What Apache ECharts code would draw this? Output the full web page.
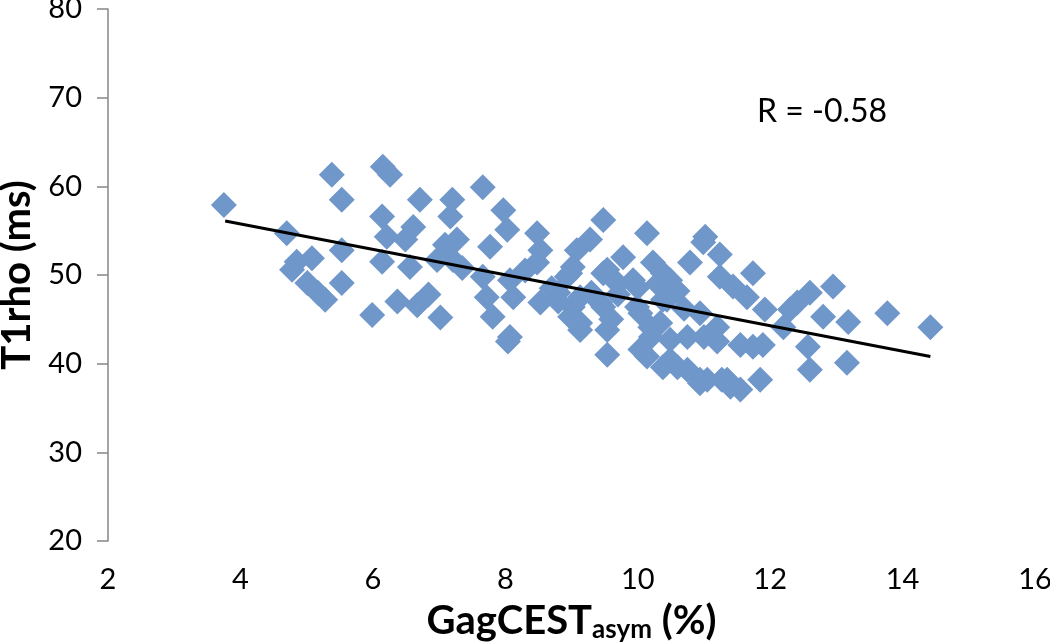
<!DOCTYPE html>
<html>
<head>
<meta charset="utf-8">
<script src="https://cdn.jsdelivr.net/npm/echarts@6/dist/echarts.min.js"></script>
<style>
  html, body { margin: 0; padding: 0; background: #fff; }
  #main { width: 1050px; height: 644px; }
</style>
</head>
<body>
<div id="main"></div>
<script>
// GagCEST asym (%) vs T1rho (ms)
var gagX = [
  3.75, 4.70, 5.38, 5.53, 5.53, 4.85, 5.08, 4.78, 5.01, 5.17, 5.28, 5.53, 5.99,
  6.15, 6.26, 6.14, 6.21, 6.14, 6.37, 6.61, 6.49, 6.56, 6.71, 6.84, 6.67, 7.02,
  7.09, 6.97, 7.20, 7.17, 7.27, 7.21, 7.35, 7.66, 7.97, 8.03, 8.48, 7.77, 8.53,
  9.08, 9.28, 9.48, 9.78, 8.48, 9.02, 9.54, 10.23, 7.66, 8.07, 8.93, 7.72, 8.12,
  8.53, 9.02, 9.43, 9.99, 7.81, 8.07, 9.13, 9.54, 10.19, 8.04, 9.54, 10.14, 10.38,
  10.14, 11.02, 11.24, 10.79, 11.74, 11.24, 11.44, 11.65, 10.38, 10.38, 10.94, 11.92,
  12.30, 12.41, 12.60, 12.95, 12.20, 12.80, 13.18, 13.77, 10.49, 11.55, 11.89, 12.57,
  10.60, 10.94, 11.35, 11.85, 12.60, 13.16, 11.55, 14.42, 10.99, 8.98, 9.48, 9.93,
  10.49, 9.13, 8.98, 9.48, 10.04, 10.44, 10.34, 11.20, 10.75, 10.04, 10.49, 10.75,
  11.05, 11.40, 11.74, 9.13, 11.27, 10.94, 8.70, 8.30, 8.80, 9.70, 10.60,
  8.80, 9.30, 9.70, 10.00, 10.30, 9.60, 10.70, 10.20, 11.00, 11.20
];
var t1rho = [
  57.9, 54.7, 61.3, 58.5, 52.8, 51.5, 51.9, 50.6, 49.1, 48.0, 47.2, 49.1, 45.5,
  62.2, 61.3, 56.6, 54.3, 51.5, 47.0, 55.4, 54.0, 50.9, 58.5, 47.8, 46.6, 45.2,
  53.4, 51.7, 58.5, 56.6, 54.0, 51.7, 50.8, 59.9, 57.3, 55.1, 54.7, 53.2, 52.8,
  52.8, 54.0, 56.2, 52.0, 51.4, 50.9, 50.6, 51.4, 49.8, 49.4, 49.8, 47.5, 47.5,
  46.9, 46.4, 46.9, 46.4, 45.3, 43.0, 44.6, 43.8, 44.1, 42.5, 41.0, 40.8, 39.6,
  54.7, 54.3, 52.3, 51.4, 50.2, 49.8, 48.7, 47.5, 50.2, 47.2, 45.7, 46.1,
  46.1, 46.9, 48.0, 48.7, 44.1, 45.3, 44.7, 45.7, 42.7, 42.1, 42.1, 41.9,
  39.6, 38.2, 38.2, 38.2, 39.3, 40.1, 37.1, 44.1, 53.7, 50.2, 50.2, 49.4,
  49.4, 47.5, 45.3, 46.4, 45.7, 47.2, 44.6, 44.1, 43.0, 41.6, 40.4, 39.3,
  38.2, 37.4, 41.9, 43.8, 38.2, 37.8, 48.5, 50.5, 48.0, 49.0, 48.2,
  47.0, 48.0, 47.8, 48.6, 49.0, 45.0, 46.2, 43.0, 43.0, 42.5
];
// regression line end points
var fitX = [3.77, 14.42];
var fitY = [56.1, 40.8];
var xTicks = [2, 4, 6, 8, 10, 12, 14, 16];
var yTicks = [20, 30, 40, 50, 60, 70, 80];

var points = gagX.map(function (x, i) { return [x, t1rho[i]]; });
var fitLine = fitX.map(function (x, i) { return [x, fitY[i]]; });

var chart = echarts.init(document.getElementById('main'));

var option = {
  animation: false,
  backgroundColor: '#fff',
  grid: { left: 108, right: 15, top: 9, bottom: 103, outerBoundsMode: 'none', containLabel: false },
  textStyle: { fontFamily: 'Lato' },
  xAxis: {
    type: 'value',
    min: xTicks[0],
    max: xTicks[xTicks.length - 1],
    interval: 2,
    splitLine: { show: false },
    axisLine: { show: false },
    axisTick: { show: false },
    axisLabel: { fontSize: 29, color: '#000', margin: 24, fontFamily: 'Lato' },
    name: '{a|GagCEST}{b|asym}{a| (%)}',
    nameLocation: 'middle',
    nameGap: 58,
    nameTextStyle: {
      rich: {
        a: { fontSize: 40, fontWeight: 'bold', color: '#000', fontFamily: 'Lato', lineHeight: 44 },
        b: { fontSize: 26, fontWeight: 'bold', color: '#000', fontFamily: 'Lato', lineHeight: 12, verticalAlign: 'bottom' }
      }
    }
  },
  yAxis: {
    type: 'value',
    min: yTicks[0],
    max: yTicks[yTicks.length - 1],
    interval: 10,
    splitLine: { show: false },
    axisLine: { show: true, lineStyle: { color: '#868686', width: 1.5 } },
    axisTick: { show: true, inside: false, length: 11, lineStyle: { color: '#868686', width: 1.5 } },
    axisLabel: { fontSize: 29, color: '#000', margin: 26, fontFamily: 'Lato' },
    name: 'T1rho (ms)',
    nameLocation: 'middle',
    nameGap: 66,
    nameTextStyle: { fontSize: 40, fontWeight: 'bold', color: '#000', fontFamily: 'Lato' }
  },
  graphic: [{
    type: 'text',
    left: 757,
    top: 96,
    style: { text: 'R = -0.58', fontSize: 32, fill: '#000', fontFamily: 'Lato' }
  }],
  series: [
    {
      name: 'data',
      type: 'scatter',
      symbol: 'diamond',
      symbolSize: 26,
      itemStyle: { color: '#7097ca', opacity: 1 },
      data: points,
      z: 2
    },
    {
      name: 'fit',
      type: 'line',
      symbol: 'none',
      lineStyle: { color: '#000', width: 3 },
      data: fitLine,
      z: 3
    }
  ]
};

chart.setOption(option);
</script>
</body>
</html>
